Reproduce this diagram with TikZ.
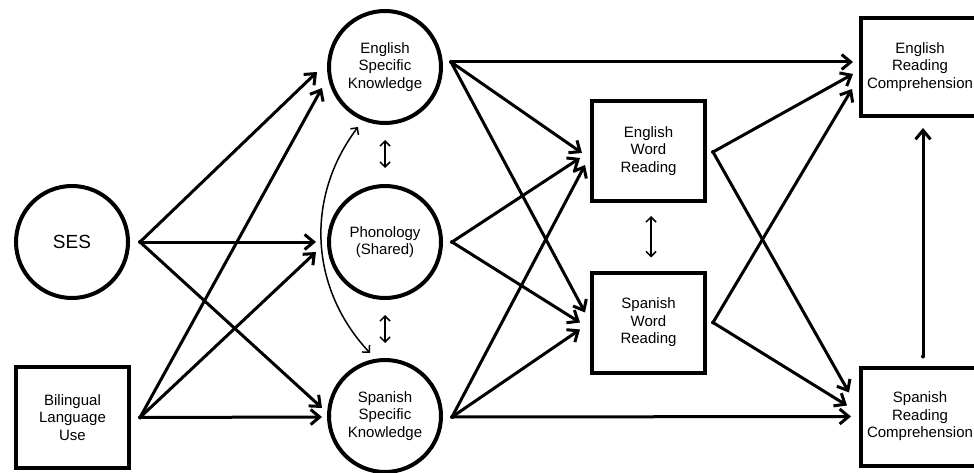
\documentclass[tikz,border=0pt]{standalone}
\usepackage{fontspec}
\setmainfont{Liberation Sans}
\usetikzlibrary{arrows.meta,calc}
\begin{document}
\begin{tikzpicture}[x=1pt,y=-1pt,
  box/.style={draw, line width=4pt, inner sep=0pt, align=center,
    font=\fontsize{15}{17.5}\selectfont},
  latent/.style={box, circle, minimum size=112pt},
  observed/.style={box, rectangle, minimum width=113pt, minimum height=100pt},
  wideobs/.style={observed, minimum width=118pt, minimum height=98pt},
  effect/.style={line width=3pt, line cap=round,
    -{Straight Barb[length=9pt,width=15pt]}},
  assoc/.style={line width=1.5pt,
    {Straight Barb[length=5pt,width=10pt]}-{Straight Barb[length=5pt,width=10pt]}},
  origin/.style={fill, circle, inner sep=0pt, minimum size=4pt}
]
\useasboundingbox (0,0) rectangle (974,473);
\fill[white] (0,0) rectangle (974,473);

% predictors
\node[latent, font=\fontsize{19}{22}\selectfont] (ses) at (72,242) {SES};
\node[observed, minimum height=101pt] (blu) at (72.5,417.5) {Bilingual\\Language\\Use};

% language knowledge
\node[latent] (esk) at (385,67) {English\\Specific\\Knowledge};
\node[latent] (pho) at (385,242) {Phonology\\(Shared)};
\node[latent] (ssk) at (385,416) {Spanish\\Specific\\Knowledge};

% word reading
\node[observed] (ewr) at (648.5,151) {English\\Word\\Reading};
\node[observed] (swr) at (648.5,322.5) {Spanish\\Word\\Reading};

% reading comprehension
\node[wideobs] (erc) at (920,67) {English\\Reading\\Comprehension};
\node[wideobs] (src) at (920,416.5) {Spanish\\Reading\\Comprehension};

% path origins
\coordinate (ses-o) at ([shift={(10,0)}]ses.east);
\coordinate (blu-o) at ([shift={(9,0)}]blu.east);
\coordinate (esk-o) at ([shift={(8,-5)}]esk.east);
\coordinate (pho-o) at ([shift={(9,0)}]pho.east);
\coordinate (ssk-o) at ([shift={(9,1)}]ssk.east);
\coordinate (ewr-o) at ([shift={(6,1)}]ewr.east);
\coordinate (swr-o) at ([shift={(6,0)}]swr.east);
\coordinate (src-o) at ([shift={(3,-9)}]src.north);
\foreach \p in {ses-o,blu-o,esk-o,pho-o,ssk-o,ewr-o,swr-o,src-o}
  \node[origin] at (\p) {};

% SES and language use
\draw[effect] (ses-o) -- ([shift={(-10,5)}]esk.west);
\draw[effect] (blu-o) -- ([shift={(-5,21)}]esk.west);
\draw[effect] (ses-o) -- ([shift={(-11,0)}]pho.west);
\draw[effect] (blu-o) -- ([shift={(-11,10)}]pho.west);
\draw[effect] (ses-o) -- ([shift={(-5,-8)}]ssk.west);
\draw[effect] (blu-o) -- ([shift={(-5,1)}]ssk.west);

% knowledge to word reading and comprehension
\draw[effect] (esk-o) -- ([shift={(-6,-5)}]erc.west);
\draw[effect] (esk-o) -- ([shift={(-8,2)}]ewr.west);
\draw[effect] (esk-o) -- ([shift={(-5,-10)}]swr.west);
\draw[effect] (pho-o) -- ([shift={(-10,7)}]ewr.west);
\draw[effect] (pho-o) -- ([shift={(-10,0)}]swr.west);
\draw[effect] (ssk-o) -- ([shift={(-5,14)}]ewr.west);
\draw[effect] (ssk-o) -- ([shift={(-10,7)}]swr.west);
\draw[effect] (ssk-o) -- ([shift={(-8,0)}]src.west);

% word reading to comprehension
\draw[effect] (ewr-o) -- ([shift={(-6,7)}]erc.west);
\draw[effect] (swr-o) -- ([shift={(-7,22)}]erc.west);
\draw[effect] (ewr-o) -- ([shift={(-10,-24)}]src.west);
\draw[effect] (swr-o) -- ([shift={(-12,-11)}]src.west);
\draw[effect] (src-o) -- ([shift={(3,10)}]erc.south);

% correlations
\draw[assoc] ([shift={(0,15)}]esk.south) -- ([shift={(0,-16)}]pho.north);
\draw[assoc] ([shift={(0,15)}]pho.south) -- ([shift={(0,-15)}]ssk.north);
\draw[assoc] ([shift={(2.5,13)}]ewr.south) -- ([shift={(2.5,-13)}]swr.north);
\draw[assoc] ([shift={(-27,60)}]esk.center) to[bend right=40] ([shift={(-15,-63)}]ssk.center);
\end{tikzpicture}
\end{document}
